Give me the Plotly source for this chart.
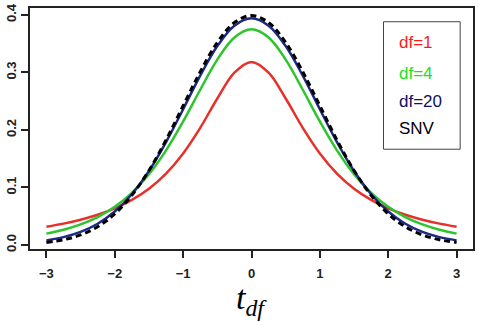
import plotly.graph_objects as go

x_vals = [-3.0, -2.75, -2.5, -2.25, -2.0, -1.75, -1.5, -1.25, -1.0, -0.75, -0.5, -0.25,
          0.0, 0.25, 0.5, 0.75, 1.0, 1.25, 1.5, 1.75, 2.0, 2.25, 2.5, 2.75, 3.0]

df1_vals = [0.0318, 0.0371, 0.0439, 0.0525, 0.0637, 0.0784, 0.0979, 0.1242, 0.1592, 0.2037, 0.2546, 0.2996,
            0.3183, 0.2996, 0.2546, 0.2037, 0.1592, 0.1242, 0.0979, 0.0784, 0.0637, 0.0525, 0.0439, 0.0371, 0.0318]
df4_vals = [0.0197, 0.0264, 0.0357, 0.0485, 0.0663, 0.0905, 0.1229, 0.1644, 0.2147, 0.2699, 0.3223, 0.3608,
            0.3750, 0.3608, 0.3223, 0.2699, 0.2147, 0.1644, 0.1229, 0.0905, 0.0663, 0.0485, 0.0357, 0.0264, 0.0197]
df20_vals = [0.0080, 0.0136, 0.0227, 0.0369, 0.0581, 0.0883, 0.1286, 0.1788, 0.2360, 0.2944, 0.3458, 0.3813,
             0.3940, 0.3813, 0.3458, 0.2944, 0.2360, 0.1788, 0.1286, 0.0883, 0.0581, 0.0369, 0.0227, 0.0136, 0.0080]
snv_vals = [0.0044, 0.0091, 0.0175, 0.0317, 0.0540, 0.0863, 0.1295, 0.1826, 0.2420, 0.3011, 0.3521, 0.3867,
            0.3989, 0.3867, 0.3521, 0.3011, 0.2420, 0.1826, 0.1295, 0.0863, 0.0540, 0.0317, 0.0175, 0.0091, 0.0044]

x_ticks = [-3, -2, -1, 0, 1, 2, 3]
y_ticks = [0.0, 0.1, 0.2, 0.3, 0.4]
y_tick_text = ["0.0", "0.1", "0.2", "0.3", "0.4"]
legend_labels = ["df=1", "df=4", "df=20", "SNV"]

fig = go.Figure()
fig.add_trace(go.Scatter(x=x_vals, y=df1_vals, mode="lines", line=dict(color="#e8302a", width=2.5, shape="spline")))
fig.add_trace(go.Scatter(x=x_vals, y=df4_vals, mode="lines", line=dict(color="#2ec42e", width=2.5, shape="spline")))
fig.add_trace(go.Scatter(x=x_vals, y=df20_vals, mode="lines", line=dict(color="#1c2a82", width=2.5, shape="spline")))
fig.add_trace(go.Scatter(x=x_vals, y=snv_vals, mode="lines", line=dict(color="black", width=3, dash="6px,4px", shape="spline")))

fig.update_layout(
    width=478, height=322,
    margin=dict(l=30, r=3, t=5, b=73),
    plot_bgcolor="white", paper_bgcolor="white",
    showlegend=False,
    xaxis=dict(range=[-3.24, 3.24], tickvals=x_ticks, showgrid=False, zeroline=False,
               showline=True, mirror=True, linecolor="#222", linewidth=2,
               ticks="outside", ticklen=7, tickwidth=1.5, tickcolor="#222", ticklabelstandoff=4,
               tickfont=dict(family="Liberation Sans", size=13, color="#222", weight="bold")),
    yaxis=dict(range=[-0.007, 0.412], tickvals=y_ticks, ticktext=y_tick_text, tickangle=-90,
               showgrid=False, zeroline=False,
               showline=True, mirror=True, linecolor="#222", linewidth=2,
               ticks="outside", ticklen=7, tickwidth=1.5, tickcolor="#222",
               tickfont=dict(family="Liberation Sans", size=13, color="#222", weight="bold")),
)

# legend box
fig.add_shape(type="rect", xref="paper", yref="paper", x0=0.798, x1=0.971, y0=0.414, y1=0.943,
              line=dict(color="#444", width=1), fillcolor="white", layer="above")
legend_colors = ["#ff1a1a", "#22dd22", "#101060", "black"]
legend_y = [0.857, 0.730, 0.611, 0.500]
for lab, col, yy in zip(legend_labels, legend_colors, legend_y):
    fig.add_annotation(x=0.829, y=yy, xref="paper", yref="paper", text=lab, showarrow=False,
                       xanchor="left", yanchor="middle",
                       font=dict(family="Liberation Sans", size=17, color=col))

# x-axis title
fig.add_annotation(x=0.0, y=-0.21, xref="x", yref="paper",
                   text="<i>t</i><sub><i>df</i></sub>", showarrow=False,
                   xanchor="center", yanchor="middle",
                   font=dict(family="Liberation Serif", size=34, color="black"))

fig.write_html("out.html")
